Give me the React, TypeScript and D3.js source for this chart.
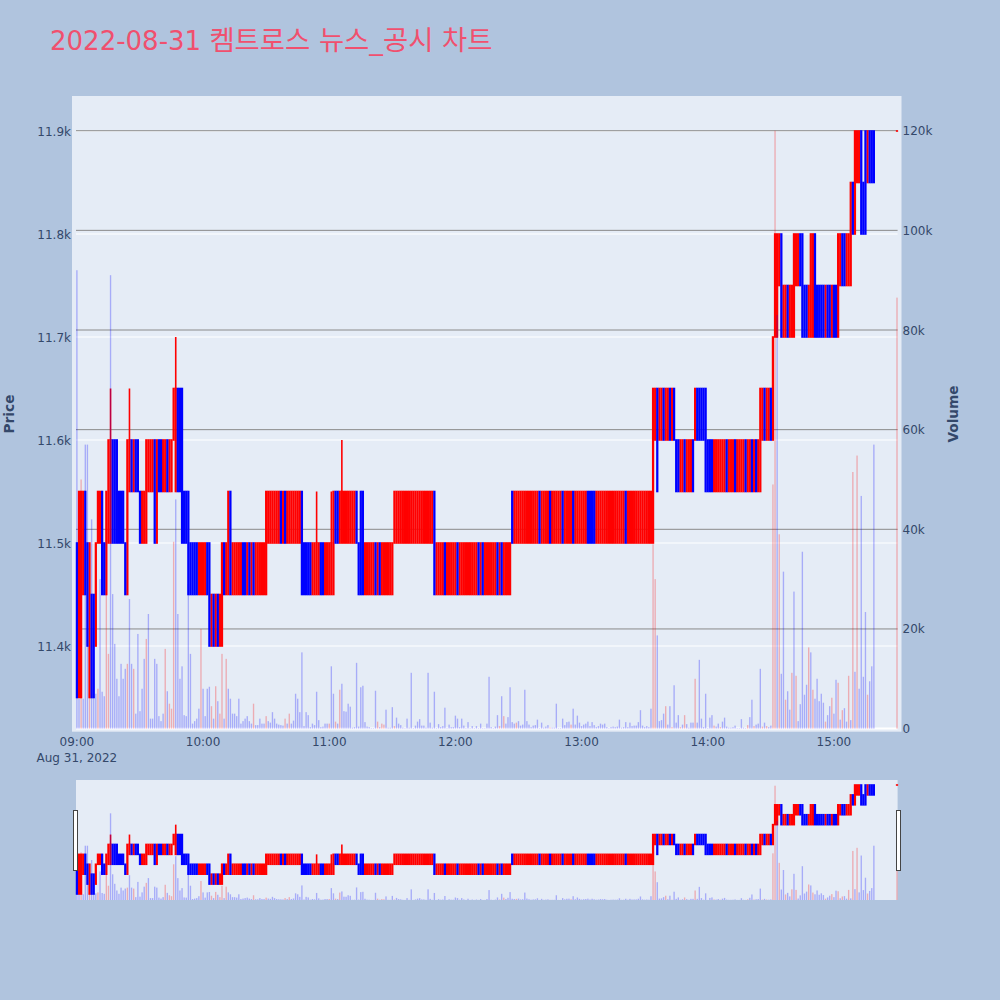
import React, { useMemo } from "react";
import * as d3 from "d3";

const titleDate = "2022-08-31 ";
const titleName = "켐트로스 뉴스_공시 차트";
const dateLabel = "Aug 31, 2022";
const priceTicks = [11400, 11500, 11600, 11700, 11800, 11900];
const priceTickLabels = ["11.4k", "11.5k", "11.6k", "11.7k", "11.8k", "11.9k"];
const volumeTicks = [0, 20, 40, 60, 80, 100, 120];
const volumeTickLabels = ["0", "20k", "40k", "60k", "80k", "100k", "120k"];
const timeTicks = [0, 60, 120, 180, 240, 300, 360];
const timeTickLabels = ["09:00", "10:00", "11:00", "12:00", "13:00", "14:00", "15:00"];

// [first minute after 09:00, low price, high price, direction of each minute: r = up, b = down]
const candleRuns: [number, number, number, string][] = [
  [0, 11350, 11500, "b"],
  [1, 11350, 11550, "rr"],
  [3, 11450, 11550, "rb"],
  [5, 11400, 11500, "b"],
  [6, 11350, 11500, "r"],
  [7, 11350, 11450, "bb"],
  [9, 11400, 11500, "r"],
  [10, 11500, 11550, "rr"],
  [12, 11450, 11550, "b"],
  [13, 11450, 11500, "b"],
  [14, 11450, 11550, "r"],
  [15, 11500, 11600, "rrbbb"],
  [20, 11500, 11550, "bbb"],
  [23, 11450, 11500, "b"],
  [24, 11450, 11600, "r"],
  [25, 11550, 11600, "rbrbb"],
  [30, 11500, 11550, "brr"],
  [33, 11500, 11600, "r"],
  [34, 11550, 11600, "rrr"],
  [37, 11500, 11600, "br"],
  [39, 11550, 11600, "bbrrbrr"],
  [46, 11600, 11650, "r"],
  [47, 11550, 11650, "rbb"],
  [50, 11500, 11650, "b"],
  [51, 11500, 11550, "bb"],
  [53, 11450, 11550, "b"],
  [54, 11450, 11500, "bbbbrrrrb"],
  [63, 11400, 11500, "b"],
  [64, 11400, 11450, "rbrbr"],
  [69, 11400, 11500, "r"],
  [70, 11450, 11500, "br"],
  [72, 11450, 11550, "rb"],
  [74, 11450, 11500, "rrrrrbbrbrbrrrrr"],
  [90, 11450, 11550, "r"],
  [91, 11500, 11550, "rrrrrrbrbrrrrrrr"],
  [107, 11450, 11550, "b"],
  [108, 11450, 11500, "bbbb"],
  [112, 11450, 11500, "rrrrbbrrrr"],
  [122, 11450, 11550, "r"],
  [123, 11500, 11550, "bbrrrrrrrrb"],
  [134, 11450, 11500, "b"],
  [135, 11450, 11550, "bb"],
  [137, 11450, 11500, "rrrrrbrbrrrrrr"],
  [151, 11500, 11550, "rrrrrrrrrrrrrrrrrrr"],
  [170, 11450, 11550, "b"],
  [171, 11450, 11500, "rrrrbrrrrrbrrrrrrrrrbrbrrrrrrbrbrrrr"],
  [207, 11500, 11550, "brrrrrrrrrrrrbrrrrbrrrrrbrrrrbrrrrrrbbbbrrrrrrrrrrrrrrbrrrrrrrrrrrr"],
  [274, 11500, 11650, "r"],
  [275, 11600, 11650, "r"],
  [276, 11550, 11650, "b"],
  [277, 11600, 11650, "rrbrrbrb"],
  [285, 11550, 11600, "bbrrbrrrb"],
  [294, 11600, 11650, "rbbbb"],
  [299, 11550, 11650, "b"],
  [300, 11550, 11600, "bbbrrrrrrbrrrbrrrrbrrbrbr"],
  [325, 11550, 11650, "r"],
  [326, 11600, 11650, "rbrrb"],
  [331, 11600, 11700, "r"],
  [332, 11700, 11800, "rr"],
  [334, 11750, 11800, "r"],
  [335, 11700, 11800, "b"],
  [336, 11700, 11750, "rrbrr"],
  [341, 11700, 11800, "r"],
  [342, 11750, 11800, "rrb"],
  [345, 11700, 11800, "b"],
  [346, 11700, 11750, "bbr"],
  [349, 11700, 11800, "rrb"],
  [352, 11700, 11750, "bbbbrbbrbb"],
  [362, 11700, 11800, "r"],
  [363, 11750, 11800, "rbbrr"],
  [368, 11750, 11850, "r"],
  [369, 11800, 11850, "b"],
  [370, 11800, 11900, "r"],
  [371, 11850, 11900, "rr"],
  [373, 11800, 11900, "b"],
  [374, 11800, 11850, "b"],
  [375, 11800, 11900, "b"],
  [376, 11850, 11900, "rbbb"],
  [390, 11900, 11900, "r"],
];

// minute -> high above the body
const wickMinutes = [16, 25, 47, 114, 121, 126];
const wickHighs = [11650, 11650, 11700, 11550, 11550, 11600];

// Volume in thousands, minute 0 onward
const volumesK = [
  92, 6, 50, 6, 57, 57, 7, 42, 10, 7,
  8, 30, 7.4, 6.5, 27, 15, 91, 27, 17, 10,
  6.5, 13, 10, 12, 13, 26, 13, 12, 3, 19,
  3.5, 8, 14, 18, 23, 2, 2, 14, 13, 2.5,
  1.5, 3, 16, 7.5, 5, 4, 37.5, 46, 23, 10,
  12.5, 2.7, 2.5, 29, 15, 1, 1.5, 2, 4, 20,
  8, 2.5, 8, 8.4, 4.5, 2, 8.5, 5.5, 3, 15,
  2, 14, 8, 6, 3, 3, 2.5, 6, 1, 1.5,
  2, 2.5, 1.5, 1, 5, 0.7, 0.7, 2, 1, 1,
  2.5, 1.5, 1.2, 3.3, 2, 1, 0.8, 0.7, 0.6, 2,
  1, 3, 1, 1.6, 7, 6, 3.3, 15.3, 0.5, 3.3,
  2.7, 0.3, 1, 0.7, 7.4, 1.7, 0.3, 0.4, 1, 1,
  1, 12.5, 7, 1.4, 1, 7.8, 9, 3.5, 3.4, 5,
  4.4, 0.2, 0.3, 13.2, 0.4, 8.3, 8.6, 1.3, 0.4, 0.3,
  0.1, 0.1, 7.6, 1.4, 0.3, 1, 0.8, 3.8, 0.2, 0.2,
  4.3, 0.5, 2.2, 1, 0.7, 0.2, 0.1, 2, 0.2, 11.2,
  0.1, 0.6, 1.4, 1.9, 0.6, 0.6, 0.2, 11.2, 1.2, 0.2,
  7.4, 0.1, 0.9, 0.3, 0.5, 4.2, 0.1, 0.8, 0.3, 0.3,
  2.6, 2, 0.3, 2, 0.6, 0.1, 1.3, 0.1, 0.5, 0.1,
  0.5, 0.1, 1, 0.1, 0.1, 1, 10.4, 0.3, 0.1, 0.4,
  2.7, 0.5, 6.5, 2.5, 1, 2.3, 8.3, 1.3, 1, 1.2,
  1.5, 0.6, 0.8, 7.8, 1.5, 0.8, 0.3, 0.6, 0.7, 1.8,
  0.1, 1.2, 0.2, 0.4, 0.7, 0.2, 0.2, 0.2, 5, 0.1,
  0.1, 2, 0.7, 1.3, 1.4, 0.8, 4, 0.8, 2.6, 1.2,
  0.5, 0.8, 1, 1.4, 0.5, 1.3, 0.7, 0.3, 0.5, 1,
  0.8, 1, 0.3, 0.1, 0.3, 0.4, 0.3, 0.4, 1.8, 0.2,
  0.3, 1.3, 0.3, 1.2, 0.5, 0.6, 0.6, 1.3, 3.7, 0.6,
  0.3, 0.5, 0.3, 4, 37, 30, 18.7, 1.5, 1.7, 3,
  4.5, 0.8, 4.5, 0.3, 8.7, 1.2, 2.7, 0.3, 0.8, 2.7,
  0.9, 0.2, 1.2, 1.2, 10, 1.2, 13.8, 2, 0.3, 7,
  0.1, 2.2, 2.7, 0.6, 0.4, 1, 0.3, 1.4, 2.2, 0.4,
  0.2, 0.2, 0.3, 0.6, 0.1, 0.1, 1.9, 0.2, 0.1, 0.7,
  2.3, 5.8, 0.5, 0.8, 1, 12, 0.4, 1.2, 0.5, 0.3,
  0.6, 49, 120, 83, 39, 11, 31.5, 5.8, 7.5, 3.8,
  11.2, 27.5, 10.6, 1.5, 4.9, 35.5, 6.8, 8.8, 16.3, 15.3,
  7.8, 6, 10, 5.5, 7, 5.2, 1.4, 2.7, 4.5, 6.2,
  3, 9.8, 9.2, 1.8, 3.7, 4.1, 1.4, 10.6, 1.7, 51.5,
  11.4, 54.8, 8, 46.7, 10.4, 23.4, 6.8, 9.5, 12.5, 57,
  0, 0, 0, 0, 0, 0, 0, 0, 0, 0, 86.5,
];
const redVolumeMinutes = [
  2, 6, 10, 14, 15, 24, 27, 33, 42, 44, 45, 46, 59, 64, 66, 68, 69, 71, 84, 90,
  99, 101, 120, 123, 125, 143, 145, 146, 151, 201, 203, 209, 225, 235, 274, 275,
  280, 283, 287, 289, 294, 303, 306, 319, 322, 326, 328, 331, 332, 334, 337, 340,
  342, 348, 350, 356, 359, 362, 364, 367, 369, 371, 376, 390,
];

const FONT = "'DejaVu Sans', Verdana, 'Noto Sans CJK KR', sans-serif";
const INK = "#34486a";
const UP = "#ff0000";
const DOWN = "#0000ff";

type Candle = { minute: number; open: number; close: number; low: number; high: number };

function Marks({
  candles, x, yPrice, yVolume,
}: {
  candles: Candle[];
  x: d3.ScaleLinear<number, number>;
  yPrice: d3.ScaleLinear<number, number>;
  yVolume: d3.ScaleLinear<number, number>;
}) {
  const redSet = new Set(redVolumeMinutes);
  return (
    <g>
      {candles.map((c) => {
        const color = c.close >= c.open ? UP : DOWN;
        const top = yPrice(Math.max(c.open, c.close));
        const bottom = yPrice(Math.min(c.open, c.close));
        return (
          <g key={c.minute}>
            {c.high > Math.max(c.open, c.close) && (
              <line x1={x(c.minute)} x2={x(c.minute)} y1={yPrice(c.high)} y2={top} stroke={color} strokeWidth={1.6} />
            )}
            <rect x={x(c.minute) - 1.13} width={2.26} y={top - 0.8} height={Math.max(bottom - top, 0) + 1.6} fill={color} />
          </g>
        );
      })}
      {volumesK.map((v, i) =>
        v > 0 ? (
          <rect
            key={i}
            x={x(i) - 0.68}
            width={1.36}
            y={yVolume(v)}
            height={yVolume(0) - yVolume(v)}
            fill={redSet.has(i) ? UP : DOWN}
            opacity={0.27}
          />
        ) : null,
      )}
    </g>
  );
}

export default function App() {
  const candles = useMemo<Candle[]>(() => {
    const out: Candle[] = [];
    candleRuns.forEach(([start, low, high, dirs]) => {
      dirs.split("").forEach((d, k) => {
        const minute = start + k;
        const w = wickMinutes.indexOf(minute);
        out.push({
          minute,
          open: d === "r" ? low : high,
          close: d === "r" ? high : low,
          low,
          high: w >= 0 ? wickHighs[w] : high,
        });
      });
    });
    // Down candles are painted after up candles, so their edges stay visible.
    return [...out.filter((c) => c.close >= c.open), ...out.filter((c) => c.close < c.open)];
  }, []);

  const x = d3.scaleLinear().domain([0, 390]).range([76.9, 897]);
  const yPrice = d3.scaleLinear().domain([11400, 11900]).range([646, 131]);
  const yVolume = d3.scaleLinear().domain([0, 120]).range([728.6, 130.7]);
  const sliderPrice = d3.scaleLinear().domain([11350, 11900]).range([894, 785]);
  const sliderVolume = d3.scaleLinear().domain([0, 120]).range([900, 785.7]);
  const plotLeft = 76;
  const plotRight = 897.6;

  return (
    <svg
      width={1000}
      height={1000}
      style={{ position: "absolute", left: 0, top: 0, display: "block" }}
      fontFamily={FONT}
    >
      <rect width={1000} height={1000} fill="#b0c4de" />
      <text x={50} y={50} fontSize={26} fill="#f0506e">
        {titleDate}
        <tspan fontSize={27.4}>{titleName}</tspan>
      </text>

      <rect x={72} y={96} width={829.5} height={635.7} fill="#e5ecf6" />
      {priceTicks.map((t) => (
        <line key={t} x1={plotLeft} x2={plotRight} y1={yPrice(t)} y2={yPrice(t)} stroke="#ffffff" strokeWidth={1.2} />
      ))}
      <line x1={plotLeft} x2={plotRight} y1={yVolume(0)} y2={yVolume(0)} stroke="#ffffff" strokeWidth={2} />
      {volumeTicks.filter((t) => t > 0).map((t) => (
        <line key={t} x1={plotLeft} x2={plotRight} y1={yVolume(t)} y2={yVolume(t)} stroke="#8a8a8a" strokeWidth={1} />
      ))}

      <Marks candles={candles} x={x} yPrice={yPrice} yVolume={yVolume} />

      {priceTicks.map((t, i) => (
        <text key={t} x={71} y={yPrice(t) + 4.5} textAnchor="end" fontSize={12} fill={INK}>{priceTickLabels[i]}</text>
      ))}
      {volumeTicks.map((t, i) => (
        <text key={t} x={902.5} y={yVolume(t) + 4.5} fontSize={12} fill={INK}>{volumeTickLabels[i]}</text>
      ))}
      {timeTicks.map((t, i) => (
        <text key={t} x={x(t)} y={746} textAnchor="middle" fontSize={12} fill={INK}>{timeTickLabels[i]}</text>
      ))}
      <text x={36.5} y={762} fontSize={12} fill={INK}>{dateLabel}</text>

      <text transform="translate(14,414) rotate(-90)" textAnchor="middle" fontSize={13.7} fontWeight="bold" fill={INK}>Price</text>
      <text transform="translate(958,414) rotate(-90)" textAnchor="middle" fontSize={13.7} fontWeight="bold" fill={INK}>Volume</text>

      <rect x={plotLeft} y={780} width={plotRight - plotLeft} height={120} fill="#e5ecf6" />
      <Marks candles={candles} x={x} yPrice={sliderPrice} yVolume={sliderVolume} />
      <rect x={73.5} y={810.5} width={4} height={60} fill="#ffffff" stroke="#444444" strokeWidth={1} />
      <rect x={896.5} y={810.5} width={4} height={60} fill="#ffffff" stroke="#444444" strokeWidth={1} />
    </svg>
  );
}
